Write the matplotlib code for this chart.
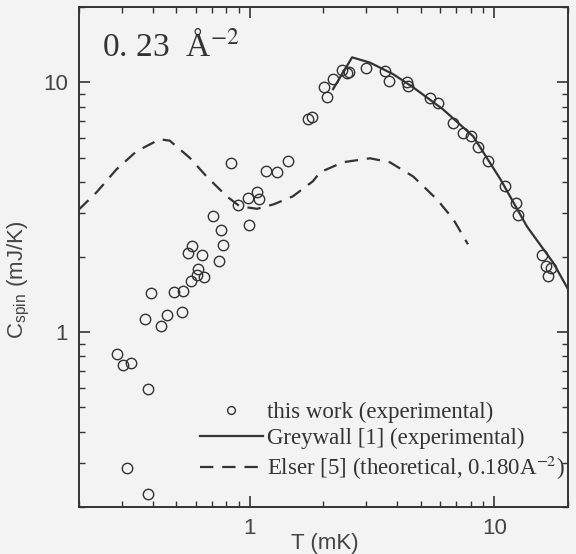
import matplotlib
matplotlib.use("Agg")
import matplotlib.pyplot as plt
from matplotlib.ticker import LogLocator, NullFormatter, FixedFormatter, FixedLocator

# measured points (this work)
t_exp = [0.285, 0.302, 0.328, 0.316, 0.382, 0.385, 0.374, 0.393, 0.432, 0.457,
         0.488, 0.531, 0.526, 0.573, 0.578, 0.557, 0.636, 0.612, 0.606, 0.648,
         0.705, 0.746, 0.760, 0.775, 0.836, 0.893, 0.981, 0.990, 1.068, 1.090,
         1.17, 1.29, 1.43, 1.73, 1.80, 2.01, 2.07, 2.19, 2.38, 2.50,
         2.55, 2.99, 3.58, 3.71, 4.40, 4.44, 5.47, 5.89, 6.80, 7.46,
         8.06, 8.58, 9.43, 11.1, 12.3, 12.5, 15.6, 16.2, 16.5, 17.1]
c_exp = [0.817, 0.738, 0.751, 0.286, 0.225, 0.592, 1.13, 1.43, 1.06, 1.17,
         1.45, 1.46, 1.21, 1.61, 2.21, 2.07, 2.03, 1.79, 1.69, 1.67,
         2.91, 1.92, 2.56, 2.23, 4.74, 3.22, 3.44, 2.68, 3.63, 3.40,
         4.41, 4.37, 4.83, 7.11, 7.30, 9.63, 8.71, 10.3, 11.2, 10.9,
         11.0, 11.4, 11.1, 10.1, 10.0, 9.7, 8.63, 8.24, 6.85, 6.25,
         6.13, 5.50, 4.83, 3.84, 3.28, 2.94, 2.03, 1.85, 1.68, 1.80]

# Greywall [1]
t_grey = [2.19, 2.62, 3.10, 3.85, 4.66, 6.17, 8.2, 10.6, 13.6, 17.4, 20.0]
c_grey = [9.4, 12.6, 12.0, 10.8, 9.55, 7.8, 6.08, 4.09, 2.65, 1.9, 1.49]

# Elser [5]
t_elser = [0.2, 0.236, 0.285, 0.344, 0.428, 0.47, 0.567, 0.666, 0.805, 0.91,
           1.07, 1.25, 1.50, 1.81, 1.94, 2.40, 3.10, 3.74, 4.66, 5.83, 6.8, 7.8]
c_elser = [3.1, 3.63, 4.49, 5.30, 5.92, 5.85, 5.0, 4.2, 3.50, 3.19,
           3.12, 3.25, 3.5, 4.02, 4.37, 4.79, 4.97, 4.79, 4.2, 3.40, 2.83, 2.25]

ink = "#333333"
bg = "#f3f3f3"

plt.rcParams["mathtext.fontset"] = "stix"

fig = plt.figure(figsize=(5.76, 5.54), dpi=100, facecolor=bg)
ax = fig.add_axes([0.137, 0.085, 0.849, 0.902])
ax.set_facecolor(bg)

ax.plot(t_exp, c_exp, "o", ms=7.5, mfc="none", mec=ink, mew=1.0,
        label="this work (experimental)")
ax.plot(t_grey, c_grey, "-", color=ink, lw=1.6, label="Greywall [1] (experimental)")
ax.plot(t_elser, c_elser, "--", color=ink, lw=1.6, dashes=(6, 4),
        label="Elser [5] (theoretical, 0.180A$^{-2}$)")

ax.set_xscale("log")
ax.set_yscale("log")
ax.set_xlim(0.2, 20)
ax.set_ylim(0.2, 20)

for axis in (ax.xaxis, ax.yaxis):
    axis.set_major_locator(FixedLocator([1, 10]))
    axis.set_major_formatter(FixedFormatter(["1", "10"]))
    axis.set_minor_locator(LogLocator(base=10, subs=range(2, 10)))
    axis.set_minor_formatter(NullFormatter())

ax.tick_params(which="both", direction="in", top=True, right=True, color=ink,
               labelsize=16, labelcolor="#444444")
ax.tick_params(which="major", length=8, width=1.2)
ax.tick_params(which="minor", length=4, width=1.0)
ax.tick_params(axis="x", which="major", pad=8)
ax.tick_params(axis="y", which="major", pad=8)
for s in ax.spines.values():
    s.set_color(ink)
    s.set_linewidth(1.4)

for lab in ax.get_xticklabels() + ax.get_yticklabels():
    lab.set_fontfamily("Liberation Sans")

ax.set_xlabel("T (mK)", fontsize=16, family="Liberation Sans", color="#444444")
ax.xaxis.set_label_coords(0.503, -0.052)
ax.set_ylabel(r"C$_{\mathregular{spin}}$ (mJ/K)", fontsize=16, family="Liberation Sans",
              color="#444444")
ax.yaxis.set_label_coords(-0.098, 0.454)

ax.text(0.047, 0.921, "0. 23  Å$^{-2}$", transform=ax.transAxes, fontsize=24,
        family="Liberation Serif", color=ink, va="center")

leg = ax.legend(loc="center left", bbox_to_anchor=(0.247, 0.130), frameon=False,
                prop={"family": "Liberation Serif", "size": 16.5}, handlelength=2.75,
                handletextpad=0.2, labelspacing=0.2, borderpad=0, borderaxespad=0,
                markerscale=0.75)
for t in leg.get_texts():
    t.set_color(ink)
    t.set_clip_box(ax.bbox)
    t.set_clip_on(True)

fig.savefig("out.png", dpi=100, facecolor=bg)
